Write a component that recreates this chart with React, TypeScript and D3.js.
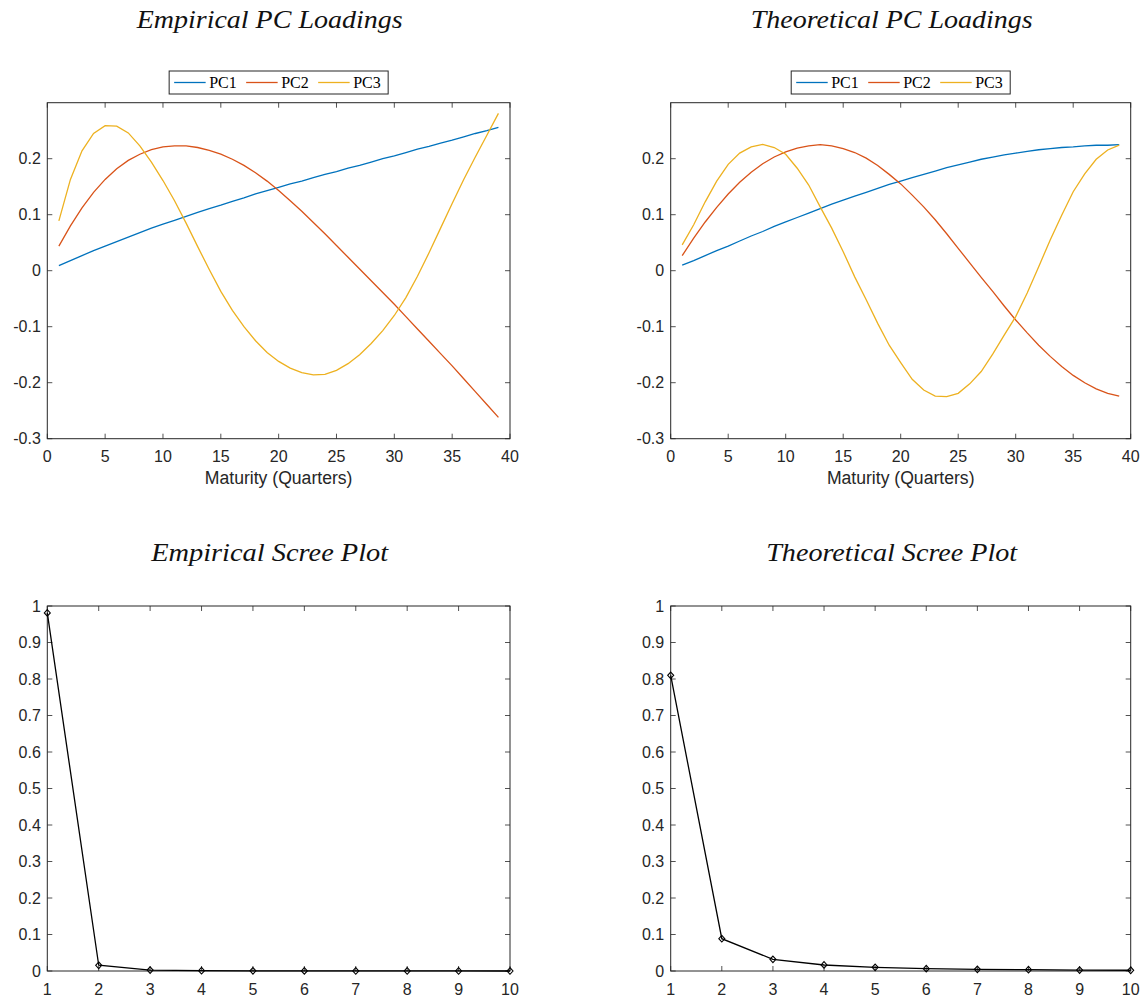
import React from "react";
import * as d3 from "d3";

// Maturities (quarters) at which the loadings are evaluated
const maturities = [
  1, 2, 3, 4, 5, 6, 7, 8, 9, 10, 11, 12, 13, 14, 15, 16, 17, 18, 19, 20,
  21, 22, 23, 24, 25, 26, 27, 28, 29, 30, 31, 32, 33, 34, 35, 36, 37, 38, 39,
];

// Empirical principal component loadings
const empPC1 = [
  0.009, 0.018, 0.027, 0.036, 0.044, 0.052, 0.06, 0.068, 0.076, 0.083,
  0.09, 0.097, 0.104, 0.111, 0.117, 0.124, 0.13, 0.137, 0.143, 0.149,
  0.155, 0.16, 0.166, 0.172, 0.177, 0.183, 0.188, 0.194, 0.2, 0.205,
  0.211, 0.217, 0.222, 0.228, 0.233, 0.239, 0.245, 0.25, 0.256,
];
const empPC2 = [
  0.044, 0.08, 0.112, 0.14, 0.163, 0.182, 0.197, 0.208, 0.216, 0.221,
  0.223, 0.223, 0.22, 0.215, 0.208, 0.199, 0.188, 0.175, 0.16, 0.143,
  0.125, 0.106, 0.086, 0.066, 0.045, 0.024, 0.003, -0.018, -0.039, -0.06,
  -0.082, -0.104, -0.126, -0.148, -0.17, -0.193, -0.216, -0.239, -0.262,
];
const empPC3 = [
  0.089, 0.163, 0.214, 0.245, 0.259, 0.258, 0.246, 0.223, 0.194, 0.161,
  0.125, 0.085, 0.043, 0.002, -0.037, -0.071, -0.1, -0.125, -0.146, -0.162,
  -0.174, -0.182, -0.186, -0.185, -0.178, -0.166, -0.15, -0.13, -0.107, -0.08,
  -0.048, -0.01, 0.032, 0.076, 0.12, 0.163, 0.203, 0.242, 0.281,
];

// Theoretical principal component loadings
const theoPC1 = [
  0.01, 0.018, 0.027, 0.036, 0.044, 0.053, 0.062, 0.07, 0.079, 0.087,
  0.095, 0.103, 0.111, 0.119, 0.126, 0.133, 0.14, 0.147, 0.154, 0.16,
  0.166, 0.172, 0.178, 0.184, 0.189, 0.194, 0.199, 0.203, 0.207, 0.21,
  0.213, 0.216, 0.218, 0.22, 0.221, 0.223, 0.224, 0.224, 0.225,
];
const theoPC2 = [
  0.027, 0.058, 0.087, 0.113, 0.137, 0.158, 0.176, 0.191, 0.203, 0.212,
  0.219, 0.223, 0.225, 0.223, 0.218, 0.211, 0.201, 0.188, 0.172, 0.155,
  0.135, 0.114, 0.091, 0.066, 0.04, 0.014, -0.012, -0.037, -0.063, -0.088,
  -0.111, -0.133, -0.153, -0.171, -0.187, -0.2, -0.211, -0.219, -0.224,
];
const theoPC3 = [
  0.046, 0.082, 0.123, 0.16, 0.19, 0.21, 0.221, 0.2256, 0.22, 0.208,
  0.183, 0.153, 0.114, 0.076, 0.034, -0.011, -0.052, -0.094, -0.133, -0.164,
  -0.194, -0.213, -0.224, -0.225, -0.219, -0.202, -0.18, -0.149, -0.115, -0.082,
  -0.04, 0.007, 0.055, 0.099, 0.141, 0.173, 0.199, 0.2155, 0.2244,
];

// Share of variance explained by each component
const components = [1, 2, 3, 4, 5, 6, 7, 8, 9, 10];
const empScree = [0.981, 0.0157, 0.0025, 0.0008, 0.0004, 0.0002, 0.0001, 0.0001, 0.0001, 0.0];
const theoScree = [0.81, 0.0885, 0.032, 0.0165, 0.01, 0.0065, 0.0045, 0.0035, 0.0025, 0.002];

// Axis ticks
const loadingTicksX = [0, 5, 10, 15, 20, 25, 30, 35, 40];
const loadingTicksY = [-0.3, -0.2, -0.1, 0, 0.1, 0.2];
const screeTicksX = [1, 2, 3, 4, 5, 6, 7, 8, 9, 10];
const screeTicksY = [0, 0.1, 0.2, 0.3, 0.4, 0.5, 0.6, 0.7, 0.8, 0.9, 1];

const seriesNames = ["PC1", "PC2", "PC3"];
const seriesColors = ["#0072BD", "#D95319", "#EDB120"];

const AXIS_COLOR = "#262626";
const SANS = "'Liberation Sans', Arial, Helvetica, sans-serif";
const SERIF = "'Liberation Serif', 'Times New Roman', serif";
const TICK_LEN = 5;

type Box = { left: number; right: number; top: number; bottom: number };

function Frame({
  box,
  x,
  y,
  xTicks,
  yTicks,
}: {
  box: Box;
  x: d3.ScaleLinear<number, number>;
  y: d3.ScaleLinear<number, number>;
  xTicks: number[];
  yTicks: number[];
}) {
  return (
    <g>
      {xTicks.map((t) => (
        <g key={"x" + t}>
          <line x1={x(t)} x2={x(t)} y1={box.bottom} y2={box.bottom - TICK_LEN} stroke={AXIS_COLOR} strokeWidth={0.8} />
          <line x1={x(t)} x2={x(t)} y1={box.top} y2={box.top + TICK_LEN} stroke={AXIS_COLOR} strokeWidth={0.8} />
          <text
            x={x(t)}
            y={box.bottom + 23.5}
            textAnchor="middle"
            fontFamily={SANS}
            fontSize={16}
            fill={AXIS_COLOR}
          >
            {String(t)}
          </text>
        </g>
      ))}
      {yTicks.map((t) => (
        <g key={"y" + t}>
          <line x1={box.left} x2={box.left + TICK_LEN} y1={y(t)} y2={y(t)} stroke={AXIS_COLOR} strokeWidth={0.8} />
          <line x1={box.right} x2={box.right - TICK_LEN} y1={y(t)} y2={y(t)} stroke={AXIS_COLOR} strokeWidth={0.8} />
          <text
            x={box.left - 6.5}
            y={y(t) + 5.7}
            textAnchor="end"
            fontFamily={SANS}
            fontSize={16}
            fill={AXIS_COLOR}
          >
            {String(t)}
          </text>
        </g>
      ))}
      <rect
        x={box.left}
        y={box.top}
        width={box.right - box.left}
        height={box.bottom - box.top}
        fill="none"
        stroke={AXIS_COLOR}
        strokeWidth={1}
      />
    </g>
  );
}

function Title({ box, y, text, width }: { box: Box; y: number; text: string; width: number }) {
  return (
    <text
      x={(box.left + box.right) / 2 - 9}
      y={y}
      textAnchor="middle"
      fontFamily={SERIF}
      fontStyle="italic"
      fontSize={25}
      textLength={width}
      lengthAdjust="spacingAndGlyphs"
      fill="#111"
    >
      {text}
    </text>
  );
}

function LoadingsPanel({
  box,
  title,
  titleWidth,
  series,
}: {
  box: Box;
  title: string;
  titleWidth: number;
  series: number[][];
}) {
  const x = d3.scaleLinear().domain([0, 40]).range([box.left, box.right]);
  const y = d3.scaleLinear().domain([-0.3, 0.3]).range([box.bottom, box.top]);
  const line = d3
    .line<number>()
    .x((_, i) => x(maturities[i]))
    .y((d) => y(d));
  const cx = (box.left + box.right) / 2;
  const legendW = 219;
  const legendLeft = cx - legendW / 2;
  return (
    <g>
      <Title box={box} y={28} text={title} width={titleWidth} />
      <rect x={legendLeft} y={71} width={legendW} height={23} fill="#fff" stroke={AXIS_COLOR} strokeWidth={1} />
      {seriesNames.map((name, i) => (
        <g key={name}>
          <line
            x1={legendLeft + 5 + i * 72}
            x2={legendLeft + 36.5 + i * 72}
            y1={82.5}
            y2={82.5}
            stroke={seriesColors[i]}
            strokeWidth={1.3}
          />
          <text x={legendLeft + 40 + i * 72} y={87.5} fontFamily={SERIF} fontSize={16} fill="#000">
            {name}
          </text>
        </g>
      ))}
      {series.map((s, i) => (
        <path key={i} d={line(s) || ""} fill="none" stroke={seriesColors[i]} strokeWidth={1.3} />
      ))}
      <Frame box={box} x={x} y={y} xTicks={loadingTicksX} yTicks={loadingTicksY} />
      <text
        x={cx}
        y={484}
        textAnchor="middle"
        fontFamily={SANS}
        fontSize={17.6}
        fill={AXIS_COLOR}
      >
        Maturity (Quarters)
      </text>
    </g>
  );
}

function ScreePanel({
  box,
  title,
  titleWidth,
  values,
}: {
  box: Box;
  title: string;
  titleWidth: number;
  values: number[];
}) {
  const x = d3.scaleLinear().domain([1, 10]).range([box.left, box.right]);
  const y = d3.scaleLinear().domain([0, 1]).range([box.bottom, box.top]);
  const line = d3
    .line<number>()
    .x((_, i) => x(components[i]))
    .y((d) => y(d));
  return (
    <g>
      <Title box={box} y={561} text={title} width={titleWidth} />
      <Frame box={box} x={x} y={y} xTicks={screeTicksX} yTicks={screeTicksY} />
      <path d={line(values) || ""} fill="none" stroke="#000" strokeWidth={1.3} />
      {values.map((v, i) => (
        <path
          key={i}
          transform={`translate(${x(components[i])},${y(v)})`}
          d="M0,-3.3L3,0L0,3.3L-3,0Z"
          fill="none"
          stroke="#000"
          strokeWidth={1.1}
        />
      ))}
    </g>
  );
}

export default function App() {
  const tl: Box = { left: 47.3, right: 510, top: 102.7, bottom: 438.7 };
  const tr: Box = { left: 670.7, right: 1130.7, top: 102.7, bottom: 438.7 };
  const bl: Box = { left: 47.3, right: 510, top: 606, bottom: 971 };
  const br: Box = { left: 670.7, right: 1130.7, top: 606, bottom: 971 };
  return (
    <svg
      width={1146}
      height={996}
      style={{ position: "absolute", left: 0, top: 0, display: "block", background: "#fff" }}
    >
      <rect x={0} y={0} width={1146} height={996} fill="#fff" />
      <LoadingsPanel box={tl} title="Empirical PC Loadings" titleWidth={266} series={[empPC1, empPC2, empPC3]} />
      <LoadingsPanel box={tr} title="Theoretical PC Loadings" titleWidth={282} series={[theoPC1, theoPC2, theoPC3]} />
      <ScreePanel box={bl} title="Empirical Scree Plot" titleWidth={237} values={empScree} />
      <ScreePanel box={br} title="Theoretical Scree Plot" titleWidth={251} values={theoScree} />
    </svg>
  );
}
